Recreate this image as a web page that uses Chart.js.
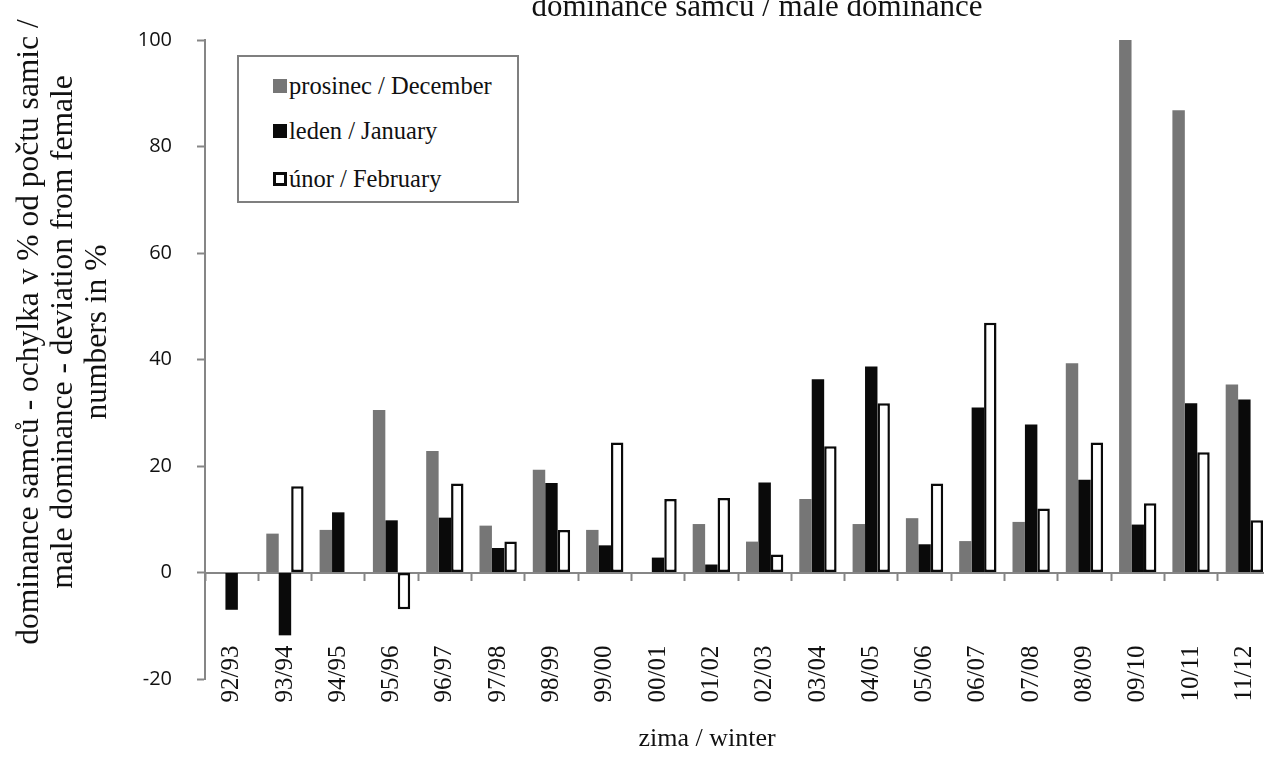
<!DOCTYPE html>
<html>
<head>
<meta charset="utf-8">
<title>dominance samců / male dominance</title>
<script src="https://cdn.jsdelivr.net/npm/chart.js@4.4.1/dist/chart.umd.min.js"></script>
<style>
  html, body { margin: 0; padding: 0; background: #fff; overflow: hidden; }
  #wrap { position: relative; width: 1272px; height: 767px; }
  #legend {
    position: absolute; left: 237px; top: 55px; width: 278px; height: 144px;
    border: 2px solid #7f7f7f; background: #fff;
    font-family: "Liberation Serif", serif; font-size: 24.5px; color: #111;
  }
  .item { position: absolute; left: 34px; height: 30px; display: flex; align-items: center; white-space: nowrap; }
  .mark { width: 14px; height: 14px; box-sizing: border-box; margin-right: 2px; }
</style>
</head>
<body>
<div id="wrap">
  <canvas id="chart" width="1272" height="767"></canvas>
  <div id="legend"></div>
</div>
<script>
// winters on the x axis
const winters = ['92/93', '93/94', '94/95', '95/96', '96/97', '97/98', '98/99', '99/00', '00/01', '01/02',
                 '02/03', '03/04', '04/05', '05/06', '06/07', '07/08', '08/09', '09/10', '10/11', '11/12'];

// male dominance in % (deviation from female numbers)
const december = [null, 7.3, 8.0, 30.5, 22.8, 8.8, 19.3, 8.0, null, 9.1,
                  5.8, 13.8, 9.1, 10.2, 5.9, 9.5, 39.3, 100, 86.8, 35.3];
const january  = [-7.0, -11.8, 11.3, 9.8, 10.3, 4.6, 16.8, 5.1, 2.8, 1.5,
                  16.9, 36.3, 38.7, 5.3, 31.0, 27.8, 17.4, 9.0, 31.8, 32.5];
const february = [null, 16.2, null, -6.9, 16.7, 5.8, 8.0, 24.4, 13.8, 14.0,
                  3.4, 23.7, 31.8, 16.7, 46.9, 12.0, 24.4, 13.0, 22.6, 9.8];

const seriesNames = ['prosinec / December', 'leden / January', 'únor / February'];

const chartTitle = 'dominance samců / male dominance';
const xTitle = 'zima / winter';
const yTitle = ['dominance samců - ochylka v % od počtu samic /',
                'male dominance - deviation from female',
                'numbers in %'];

const axisGray = '#868686';
const serif = '"Liberation Serif", "Times New Roman", serif';

// Titles drawn straight onto the canvas
const titlesPlugin = {
  id: 'titles',
  afterDraw(chart) {
    const ctx = chart.ctx;
    ctx.save();
    ctx.fillStyle = '#111';
    ctx.textAlign = 'center';
    ctx.textBaseline = 'alphabetic';
    ctx.font = '31px ' + serif;
    ctx.fillText(chartTitle, 757, 16);
    ctx.font = '26px ' + serif;
    ctx.fillText(xTitle, 707, 746);

    // rotated y title, three lines
    ctx.font = '31.5px ' + serif;
    ctx.textBaseline = 'middle';
    ctx.translate(0, 332);
    ctx.rotate(-Math.PI / 2);
    const lineX = [30, 64, 98];
    yTitle.forEach((line, i) => ctx.fillText(line, 0, lineX[i]));
    ctx.restore();
  }
};

const datasets = [
  { label: seriesNames[0], data: december, backgroundColor: '#767676', borderWidth: 0 },
  { label: seriesNames[1], data: january, backgroundColor: '#0a0a0a', borderWidth: 0 },
  { label: seriesNames[2], data: february, backgroundColor: '#ffffff', borderColor: '#0a0a0a', borderWidth: 2.5, borderSkipped: false }
];

const chart = new Chart(document.getElementById('chart').getContext('2d'), {
  type: 'bar',
  data: { labels: winters, datasets: datasets },
  options: {
    responsive: false,
    animation: false,
    layout: { padding: { top: 40, bottom: 88, left: 0, right: 1 } },
    datasets: { bar: { categoryPercentage: 0.7, barPercentage: 1.0 } },
    plugins: {
      legend: { display: false },
      tooltip: { enabled: false }
    },
    scales: {
      x: {
        position: { y: 0 },
        grid: { offset: true, drawOnChartArea: false, tickLength: 7, tickColor: axisGray, tickWidth: 2 },
        border: { color: axisGray, width: 2 },
        ticks: {
          autoSkip: false, minRotation: 90, maxRotation: 90, padding: 66,
          color: '#111', font: { family: serif, size: 25 }
        },
        // labels may hang over the sides, keep the plot full width
        afterFit: function (scale) { scale.paddingLeft = 0; scale.paddingRight = 0; }
      },
      y: {
        min: -20,
        max: 100,
        ticks: { stepSize: 20, padding: 25, color: '#111', font: { family: '"Open Sans", sans-serif', size: 20 } },
        grid: { drawOnChartArea: false, tickLength: 8, tickColor: axisGray, tickWidth: 2 },
        border: { color: axisGray, width: 2 },
        afterFit: function (scale) { scale.width = 205; }
      }
    }
  },
  plugins: [titlesPlugin]
});

// Legend box built from the datasets
const legendEl = document.getElementById('legend');
const rowTop = [14, 59, 107];
datasets.forEach((ds, i) => {
  const item = document.createElement('div');
  item.className = 'item';
  item.style.top = rowTop[i] + 'px';
  const mark = document.createElement('span');
  mark.className = 'mark';
  mark.style.background = ds.backgroundColor;
  if (ds.borderWidth) mark.style.border = '3px solid ' + ds.borderColor;
  item.appendChild(mark);
  item.appendChild(document.createTextNode(ds.label));
  legendEl.appendChild(item);
});
</script>
</body>
</html>
